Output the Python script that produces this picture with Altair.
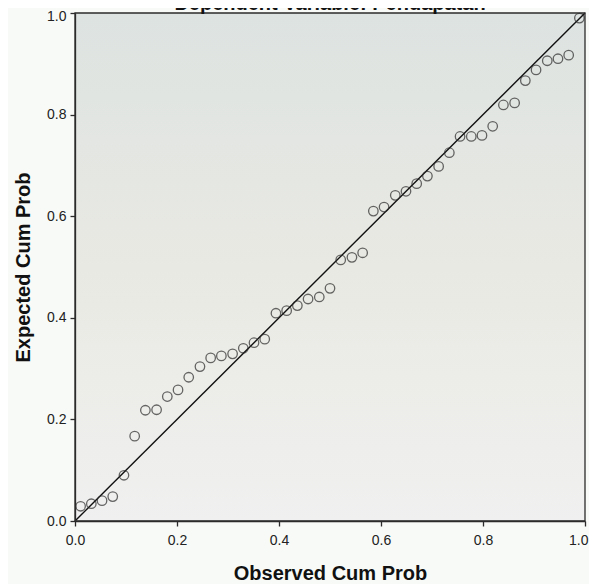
import altair as alt
import pandas as pd

observed = [0.011, 0.032, 0.053, 0.074, 0.096, 0.117, 0.138, 0.160, 0.181, 0.202,
            0.223, 0.245, 0.266, 0.287, 0.309, 0.330, 0.351, 0.372, 0.394, 0.415,
            0.436, 0.457, 0.479, 0.500, 0.521, 0.543, 0.564, 0.585, 0.606, 0.628,
            0.649, 0.670, 0.691, 0.713, 0.734, 0.755, 0.777, 0.798, 0.819, 0.840,
            0.862, 0.883, 0.904, 0.926, 0.947, 0.968, 0.989]
expected = [0.029, 0.034, 0.040, 0.048, 0.090, 0.167, 0.218, 0.219, 0.245, 0.258,
            0.283, 0.304, 0.321, 0.325, 0.329, 0.340, 0.351, 0.358, 0.409, 0.414,
            0.424, 0.437, 0.441, 0.458, 0.514, 0.519, 0.528, 0.610, 0.618, 0.641,
            0.649, 0.664, 0.679, 0.698, 0.725, 0.757, 0.757, 0.759, 0.777, 0.819,
            0.823, 0.867, 0.888, 0.906, 0.910, 0.917, 0.990]
diag_x = [0.0, 1.0]
diag_y = [0.0, 1.0]
x_ticks = [0.0, 0.2, 0.4, 0.6, 0.8, 1.0]
y_ticks = [0.0, 0.2, 0.4, 0.6, 0.8, 1.0]
title_text = "Dependent Variable: Pendapatan"
x_title = "Observed Cum Prob"
y_title = "Expected Cum Prob"

W, H = 510, 508
FONT = "Liberation Sans"
DARK = "#2b2b2b"

pts = pd.DataFrame({"obs": observed, "exp": expected})
diag = pd.DataFrame({"obs": diag_x, "exp": diag_y})
one = pd.DataFrame({"a": [0]})

xs = alt.Scale(domain=[0, 1], nice=False, zero=False)
ys = alt.Scale(domain=[0, 1], nice=False, zero=False)

xaxis = alt.Axis(values=x_ticks, format=".1f", title=x_title, grid=False,
                 domainColor=DARK, domainWidth=1.3, tickColor=DARK, tickWidth=1.3,
                 tickSize=5, labelFont=FONT, labelFontSize=14, labelColor="#222",
                 labelPadding=7, labelFlush=False,
                 labelAlign={"condition": {"test": "datum.value == 1", "value": "right"},
                             "value": "center"},
                 labelOffset={"condition": {"test": "datum.value == 1", "value": 3},
                              "value": 0},
                 titleFont=FONT, titleFontSize=20, titleFontWeight="bold",
                 titleColor="#111", titleBaseline="alphabetic", titleY=58, zindex=1)
yaxis = alt.Axis(values=y_ticks, format=".1f", title=y_title, grid=False,
                 domainColor=DARK, domainWidth=1.3, tickColor=DARK, tickWidth=1.3,
                 tickSize=5, labelFont=FONT, labelFontSize=14, labelColor="#222",
                 labelPadding=4, labelFlush=False,
                 labelOffset={"condition": {"test": "datum.value == 1", "value": 3},
                              "value": 0},
                 titleFont=FONT, titleFontSize=20, titleFontWeight="bold",
                 titleColor="#111", titleBaseline="alphabetic", titleX=-46, titleY=H / 2,
                 titleAngle=270, zindex=1)

bg = alt.Chart(one).mark_rect(
    fill=alt.Gradient(gradient="linear", x1=0, y1=0, x2=0, y2=1,
                      stops=[alt.GradientStop(offset=0, color="#dde3e1"),
                             alt.GradientStop(offset=0.5, color="#e9e9e3"),
                             alt.GradientStop(offset=1, color="#f0f0f0")])
).encode(x=alt.value(0), x2=alt.value(W), y=alt.value(0), y2=alt.value(H))

border = alt.Chart(one).mark_rect(fillOpacity=0, stroke=DARK, strokeWidth=1.3).encode(
    x=alt.value(0), x2=alt.value(W), y=alt.value(0), y2=alt.value(H))

line = alt.Chart(diag).mark_line(color="#111", strokeWidth=1.4).encode(
    x=alt.X("obs:Q", scale=xs, axis=xaxis),
    y=alt.Y("exp:Q", scale=ys, axis=yaxis))

points = alt.Chart(pts).mark_point(shape="circle", filled=False, size=90,
                                   color=DARK, strokeWidth=1.3).encode(
    x=alt.X("obs:Q", scale=xs, axis=xaxis),
    y=alt.Y("exp:Q", scale=ys, axis=yaxis))

title = alt.Chart(one).mark_text(text=title_text, font=FONT, fontSize=20,
                                 fontWeight="bold", color="#111",
                                 baseline="alphabetic").encode(
    x=alt.value(W / 2), y=alt.value(-3))

chart = alt.layer(bg, line, points, border, title).properties(
    width=W, height=H,
    padding={"left": 67, "top": 5, "right": 4, "bottom": 63},
    autosize=alt.AutoSizeParams(type="none"),
    background="#f8faf7",
).configure_view(strokeWidth=0)

chart.save("out.html", embed_options={"renderer": "svg", "actions": False})
